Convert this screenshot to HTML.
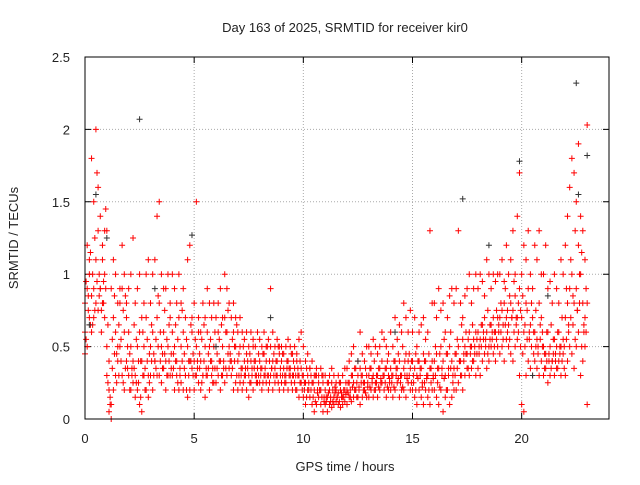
<!DOCTYPE html>
<html><head><meta charset="utf-8"><style>
body{margin:0;background:#fff}
svg text{font-family:"Liberation Sans",sans-serif;font-size:13px;fill:#222}
</style></head><body>
<svg id="chart" width="640" height="480" viewBox="0 0 640 480">
<text x="345" y="32" text-anchor="middle">Day 163 of 2025, SRMTID for receiver kir0</text>
<text x="345" y="471" text-anchor="middle">GPS time / hours</text>
<text transform="translate(18,238) rotate(-90)" text-anchor="middle">SRMTID / TECUs</text>
<g id="grid"></g>
<g id="ticks"></g>
<g id="pts"></g>
<rect x="85" y="57" width="524" height="362" fill="none" stroke="#000" stroke-width="1"/>
</svg>
<script>
const xTicks=[0,5,10,15,20];
const xTickLabels=["0","5","10","15","20"];
const yTicks=[0,0.5,1,1.5,2,2.5];
const yTickLabels=["0","0.5","1","1.5","2","2.5"];
const tStart=0, tStep=0.1, tStartB=0.05;
const redV1=[0.8,0.9,1.0,0.85,0.7,1.1,1.3,0.9,0.8,1.0,0.5,0.4,0.9,0.7,0.6,0.5,0.8,0.9,0.6,0.7,0.6,0.5,0.4,0.3,0.5,0.6,0.4,0.5,0.7,0.3,0.5,0.6,0.4,0.7,0.8,0.5,0.6,0.4,0.5,0.7,0.6,0.5,0.4,0.7,0.5,0.6,0.3,0.5,0.4,0.6,0.4,0.5,0.6,0.4,0.3,0.5,0.6,0.5,0.4,0.5,0.5,0.6,0.4,0.5,0.7,0.6,0.5,0.4,0.6,0.5,0.4,0.5,0.35,0.4,0.45,0.3,0.4,0.5,0.4,0.35,0.4,0.35,0.45,0.4,0.3,0.5,0.4,0.35,0.4,0.45,0.4,0.35,0.3,0.4,0.35,0.3,0.35,0.4,0.3,0.35,0.3,0.25,0.3,0.35,0.25,0.2,0.3,0.25,0.2,0.25,0.2,0.15,0.2,0.25,0.15,0.2,0.18,0.2,0.15,0.2,0.2,0.25,0.3,0.25,0.2,0.3,0.35,0.3,0.25,0.3,0.3,0.35,0.3,0.25,0.3,0.35,0.4,0.3,0.35,0.3,0.35,0.3,0.4,0.35,0.4,0.3,0.35,0.45,0.4,0.35,0.4,0.35,0.3,0.4,0.35,0.45,0.4,0.3,0.35,0.4,0.4,0.45,0.35,0.5,0.4,0.3,0.45,0.5,0.4,0.35,0.45,0.5,0.4,0.55,0.5,0.45,0.6,0.5,0.55,0.6,0.6,0.55,0.65,0.7,0.6,0.5,0.65,0.7,0.6,0.7,0.7,0.75,0.8,0.7,0.65,0.8,0.75,0.85,0.7,0.9,0.7,0.6,0.8,0.9,0.65,0.7,0.6,0.55,0.8,0.7,0.5,0.45,0.6,0.5,0.4,0.55,0.5,0.6,0.5,0.55,0.7,0.8,0.9,1.0,0.8,0.9,1.2,1.0,0.8,0.7,0.8];
const redV2=[0.6,1.2,1.1,1.8,1.5,2.0,1.6,1.4,1.2,1.3,1.3,0.2,0.1,1.1,1.0,0.8,0.9,1.2,1.0,0.8,0.9,1.0,1.25,0.8,0.9,1.0,0.7,0.8,1.0,1.1,0.8,1.0,1.1,1.4,1.5,1.0,0.9,0.9,1.0,0.8,1.0,0.9,0.8,1.0,0.8,0.9,0.7,1.1,1.2,0.7,0.8,1.5,0.7,0.6,0.8,0.7,0.9,0.8,0.7,0.8,0.7,0.8,0.9,0.7,1.0,0.9,0.8,0.7,0.8,0.7,0.6,0.7,0.6,0.55,0.6,0.5,0.6,0.55,0.5,0.6,0.55,0.5,0.6,0.5,0.55,0.9,0.6,0.5,0.55,0.5,0.5,0.45,0.5,0.55,0.5,0.45,0.5,0.45,0.55,0.6,0.5,0.4,0.45,0.35,0.4,0.3,0.35,0.3,0.35,0.3,0.3,0.25,0.3,0.35,0.3,0.25,0.3,0.25,0.3,0.35,0.35,0.4,0.45,0.5,0.35,0.4,0.6,0.45,0.4,0.5,0.5,0.45,0.55,0.5,0.45,0.5,0.6,0.55,0.5,0.45,0.6,0.5,0.7,0.55,0.65,0.6,0.8,0.7,0.6,0.75,0.6,0.7,0.5,0.6,0.65,0.7,0.55,0.6,1.3,0.8,0.8,0.7,0.9,0.75,0.8,0.6,0.7,0.85,0.9,0.8,0.9,1.3,0.8,0.7,0.85,0.9,1.0,0.8,0.9,1.0,0.9,1.0,0.95,0.85,1.1,1.0,0.9,1.0,0.95,1.0,1.0,1.1,0.95,1.2,1.0,1.1,1.3,1.0,1.4,1.7,1.0,1.2,1.1,1.3,1.0,0.9,1.2,1.1,1.3,1.0,1.0,1.2,0.9,0.95,0.8,1.0,0.9,0.8,1.1,1.0,1.2,1.4,1.6,1.8,1.7,1.5,1.9,1.4,1.3,1.1,2.03];
const redV3=[0.45,0.5,0.7,0.6,0.9,0.8,0.75,0.9,1.1,0.7,0.3,0.05,0.0,0.2,0.3,0.4,0.5,0.3,0.2,0.4,0.3,0.2,0.25,0.15,0.2,0.1,0.05,0.3,0.2,0.15,0.3,0.2,0.4,0.3,0.3,0.25,0.35,0.2,0.3,0.3,0.3,0.2,0.3,0.2,0.25,0.2,0.3,0.15,0.2,0.35,0.2,0.3,0.25,0.2,0.3,0.15,0.3,0.2,0.3,0.25,0.25,0.3,0.2,0.3,0.25,0.3,0.35,0.3,0.2,0.25,0.2,0.25,0.2,0.3,0.2,0.15,0.25,0.2,0.3,0.25,0.25,0.2,0.3,0.25,0.2,0.3,0.2,0.25,0.3,0.2,0.25,0.2,0.25,0.2,0.3,0.2,0.25,0.2,0.15,0.25,0.15,0.1,0.2,0.15,0.1,0.05,0.1,0.15,0.1,0.05,0.1,0.05,0.1,0.08,0.1,0.12,0.1,0.08,0.1,0.12,0.1,0.15,0.12,0.15,0.2,0.15,0.1,0.15,0.2,0.15,0.15,0.2,0.15,0.2,0.15,0.2,0.25,0.2,0.15,0.2,0.2,0.15,0.2,0.25,0.15,0.2,0.2,0.15,0.25,0.2,0.2,0.15,0.1,0.2,0.15,0.1,0.2,0.15,0.1,0.2,0.2,0.15,0.1,0.2,0.05,0.15,0.2,0.1,0.15,0.2,0.2,0.25,0.3,0.2,0.3,0.35,0.3,0.35,0.4,0.3,0.35,0.3,0.4,0.45,0.35,0.4,0.5,0.45,0.4,0.5,0.45,0.5,0.4,0.55,0.5,0.45,0.4,0.5,0.55,0.3,0.1,0.05,0.3,0.4,0.35,0.3,0.4,0.35,0.3,0.4,0.3,0.35,0.25,0.3,0.4,0.3,0.35,0.4,0.3,0.45,0.3,0.4,0.5,0.45,0.35,0.5,0.6,0.3,0.4,0.5,0.1];
const redV4=[0.95,0.75,1.15,0.65,1.25,1.7,1.0,0.75,0.95,1.45,0.65,0.15,0.55,0.85,0.45,0.65,0.55,0.75,0.85,0.35,0.45,0.35,0.65,0.55,0.25,0.4,0.6,0.35,0.55,0.45,0.65,0.45,0.55,0.85,0.6,0.45,0.75,0.55,0.65,0.45,0.45,0.65,0.55,0.35,0.75,0.45,0.55,0.4,0.65,0.45,0.55,0.35,0.45,0.55,0.65,0.35,0.45,0.55,0.35,0.6,0.45,0.55,0.65,0.35,0.6,0.75,0.45,0.55,0.5,0.65,0.45,0.3,0.5,0.35,0.4,0.45,0.35,0.4,0.3,0.45,0.35,0.45,0.3,0.5,0.4,0.35,0.45,0.4,0.5,0.35,0.45,0.3,0.4,0.35,0.45,0.4,0.3,0.35,0.4,0.3,0.25,0.35,0.2,0.3,0.25,0.3,0.2,0.2,0.3,0.15,0.15,0.25,0.12,0.2,0.22,0.15,0.25,0.15,0.2,0.25,0.25,0.2,0.3,0.35,0.25,0.2,0.3,0.25,0.35,0.25,0.35,0.25,0.4,0.3,0.35,0.25,0.3,0.35,0.4,0.25,0.3,0.4,0.35,0.45,0.3,0.5,0.4,0.3,0.45,0.4,0.3,0.45,0.4,0.35,0.25,0.4,0.3,0.45,0.35,0.3,0.5,0.35,0.45,0.3,0.55,0.45,0.35,0.6,0.3,0.45,0.55,0.4,0.65,0.45,0.6,0.55,0.5,0.65,0.45,0.55,0.5,0.65,0.6,0.55,0.75,0.65,0.55,0.6,0.75,0.65,0.8,0.65,0.9,0.75,0.85,0.7,0.95,0.65,0.8,0.75,0.85,0.65,0.75,0.55,0.8,0.6,0.75,0.5,0.65,0.6,0.45,0.6,0.4,0.65,0.55,0.45,0.6,0.45,0.7,0.5,0.9,0.65,1.1,0.85,1.3,0.75,1.0,1.15,0.6,0.9];
const redV5=[0.55,0.85,0.65,1.0,0.75,0.95,0.85,0.6,0.8,0.9,0.25,0.1,0.35,0.45,0.25,0.3,0.4,0.25,0.35,0.5,0.2,0.3,0.35,0.25,0.4,0.15,0.3,0.2,0.4,0.25,0.4,0.3,0.35,0.5,0.4,0.35,0.45,0.3,0.4,0.35,0.35,0.4,0.25,0.3,0.4,0.35,0.2,0.3,0.4,0.3,0.3,0.4,0.35,0.25,0.4,0.3,0.35,0.4,0.25,0.35,0.35,0.4,0.3,0.4,0.35,0.45,0.4,0.35,0.4,0.3,0.3,0.35,0.25,0.3,0.35,0.25,0.3,0.35,0.25,0.3,0.3,0.25,0.35,0.3,0.25,0.35,0.3,0.3,0.25,0.3,0.3,0.25,0.35,0.3,0.25,0.3,0.2,0.3,0.25,0.2,0.2,0.15,0.25,0.2,0.15,0.12,0.18,0.2,0.15,0.12,0.12,0.18,0.15,0.12,0.18,0.15,0.12,0.18,0.15,0.17,0.18,0.15,0.22,0.2,0.15,0.22,0.25,0.2,0.18,0.22,0.22,0.28,0.2,0.25,0.22,0.28,0.3,0.25,0.22,0.28,0.25,0.22,0.3,0.28,0.25,0.22,0.3,0.28,0.3,0.25,0.25,0.2,0.28,0.3,0.22,0.25,0.28,0.2,0.25,0.28,0.3,0.25,0.22,0.35,0.28,0.2,0.3,0.35,0.25,0.3,0.35,0.4,0.3,0.4,0.45,0.35,0.45,0.4,0.5,0.45,0.45,0.5,0.55,0.5,0.45,0.55,0.6,0.5,0.55,0.6,0.6,0.55,0.65,0.6,0.55,0.7,0.6,0.7,0.6,0.5,0.45,0.5,0.55,0.6,0.5,0.45,0.5,0.45,0.55,0.5,0.35,0.4,0.45,0.35,0.45,0.4,0.35,0.5,0.4,0.35,0.55,0.6,0.7,0.65,0.55,0.75,0.8,0.5,0.65,0.6];
const blackT=[0.5,1.0,2.5,4.9,17.3,19.9,20.5,22.5,22.6,23.0,3.2,8.5,14.2,12.5,18.5,21.2,0.2,6.0];
const blackV=[1.55,1.25,2.07,1.27,1.52,1.78,0.3,2.32,1.55,1.82,0.9,0.7,0.6,0.4,1.2,0.85,0.65,0.5];

const X0=85,X1=609,Y0=419,Y1=57,XMAX=24,YMAX=2.5;
const xs=t=>X0+(t/XMAX)*(X1-X0);
const ys=v=>Y0-(v/YMAX)*(Y0-Y1);
const NS="http://www.w3.org/2000/svg";
function mk(tag,attrs,parent){const e=document.createElementNS(NS,tag);for(const k in attrs)e.setAttribute(k,attrs[k]);parent.appendChild(e);return e;}
const grid=document.getElementById('grid'),ticks=document.getElementById('ticks'),pts=document.getElementById('pts');
xTicks.forEach((t,i)=>{
  const x=xs(t);
  if(t>0){const g=mk('line',{x1:x,x2:x,y1:Y0,y2:Y1,stroke:'#aaa','stroke-dasharray':'1,2'},grid);
  
  }
  const tk=mk('path',{d:`M${x},${Y0}v-6M${x},${Y1}v6`,stroke:'#000'},ticks);
  
  
  const l=mk('text',{x:x,y:443,'text-anchor':'middle'},ticks);l.textContent=xTickLabels[i];
  
  
});
yTicks.forEach((v,i)=>{
  const y=ys(v);
  if(v>0&&v<YMAX){const g=mk('line',{x1:X0,x2:X1,y1:y,y2:y,stroke:'#aaa','stroke-dasharray':'1,2'},grid);
  
  }
  const tk=mk('path',{d:`M${X0},${y}h6M${X1},${y}h-6`,stroke:'#000'},ticks);
  
  
  const l=mk('text',{x:70,y:y+5,'text-anchor':'end'},ticks);l.textContent=yTickLabels[i];
  
  
});
function plus(t,v,col){
  const x=xs(t),y=ys(v);
  return mk('path',{d:`M${x-3},${y}h6M${x},${y-3}v6`,stroke:col,'stroke-width':1},pts);
}
[redV1,redV2,redV3].forEach(arr=>arr.forEach((v,i)=>{
  const p=plus(tStart+i*tStep,v,'#f00');
  
  
}));
[redV4,redV5].forEach(arr=>arr.forEach((v,i)=>{
  const p=plus(tStartB+i*tStep,v,'#f00');
  
  
}));
blackT.forEach((t,i)=>{
  const p=plus(t,blackV[i],'#333');
  
  
});
</script>
</body></html>
